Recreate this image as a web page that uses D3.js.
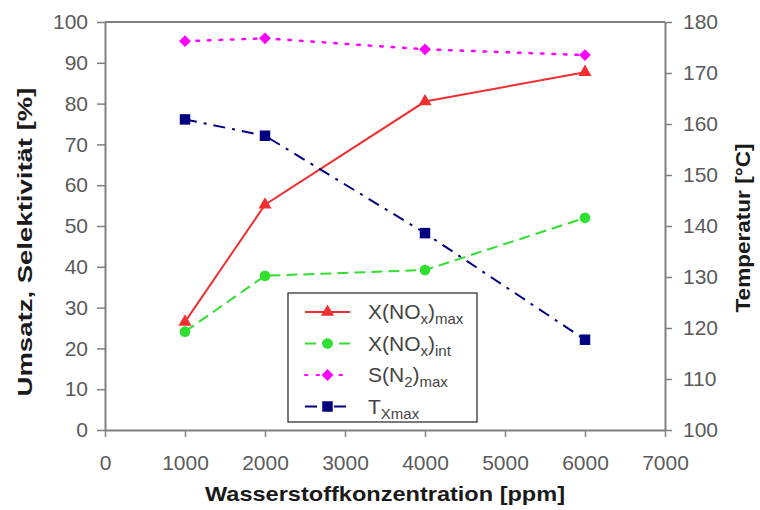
<!DOCTYPE html>
<html>
<head>
<meta charset="utf-8">
<script src="https://cdn.jsdelivr.net/npm/d3@7"></script>
<style>
  body { margin: 0; background: #fff; }
  text { font-family: "Liberation Sans", Arial, sans-serif; }
</style>
</head>
<body>
<div id="canvas"></div>
<script>
// Data

let concentrations = [1000, 2000, 4000, 6000];
let xNoxMax = [26.5, 55.2, 80.5, 87.7];
let xNoxInt = [24.1, 37.8, 39.2, 52.0];
let sN2Max = [95.3, 96.0, 93.3, 91.9];
let tXMax = [160.9, 157.7, 138.6, 117.7];

let xTicks = [0, 1000, 2000, 3000, 4000, 5000, 6000, 7000];
let leftTicks = [0, 10, 20, 30, 40, 50, 60, 70, 80, 90, 100];
let rightTicks = [100, 110, 120, 130, 140, 150, 160, 170, 180];

// Setting dimensions

let W = 760, H = 510;
let margin = {top: 22, right: 95, bottom: 80, left: 105};
let width = W - margin.left - margin.right;
let height = H - margin.top - margin.bottom;

let axisColor = "#808080";
let textColor = "#5a5a5a";

let svg = d3.select("#canvas")
    .append("svg")
    .attr("width", W)
    .attr("height", H);

let g = svg.append("g")
    .attr("transform", "translate(" + margin.left + ", " + margin.top + ")");

// Scales

let xScale = d3.scaleLinear().domain([0, 7000]).range([0, width]);
let yScale = d3.scaleLinear().domain([0, 100]).range([height, 0]);
let y2Scale = d3.scaleLinear().domain([100, 180]).range([height, 0]);

// Axes

function styleAxis(sel) {
    sel.select(".domain").attr("stroke", axisColor).attr("stroke-width", 2);
    sel.selectAll(".tick line").attr("stroke", axisColor).attr("stroke-width", 1.5);
    sel.selectAll(".tick text")
        .attr("fill", textColor)
        .style("font-size", "21px");
}

// top frame line
g.append("line")
    .attr("x1", xScale(0)).attr("x2", xScale(7000))
    .attr("y1", yScale(100)).attr("y2", yScale(100))
    .attr("stroke", axisColor).attr("stroke-width", 2);

g.append("g")
    .attr("transform", "translate(0, " + height + ")")
    .call(d3.axisBottom(xScale).tickValues(xTicks).tickFormat(d3.format("d"))
        .tickSize(7).tickSizeOuter(0).tickPadding(18))
    .call(styleAxis);

g.append("g")
    .call(d3.axisLeft(yScale).tickValues(leftTicks).tickSize(8).tickSizeOuter(0).tickPadding(9))
    .call(styleAxis);

g.append("g")
    .attr("transform", "translate(" + width + ", 0)")
    .call(d3.axisRight(y2Scale).tickValues(rightTicks).tickSize(7).tickSizeOuter(0).tickPadding(11))
    .call(styleAxis);

// Series

let series = [
    {values: xNoxMax, scale: yScale, color: "#f03030", dash: null, symbol: d3.symbolTriangle, size: 75, rot: 0},
    {values: xNoxInt, scale: yScale, color: "#30e030", dash: "11,6", symbol: d3.symbolCircle, size: 90, rot: 0},
    {values: sN2Max, scale: yScale, color: "#ff00ff", dash: "2.5,9", symbol: d3.symbolSquare, size: 70, rot: 45},
    {values: tXMax, scale: y2Scale, color: "#000080", dash: "12,7,3,7", symbol: d3.symbolSquare, size: 110, rot: 0}
];

series.forEach((s) => {
    let pts = concentrations.map((c, i) => [xScale(c), s.scale(s.values[i])]);
    g.append("path")
        .datum(pts)
        .attr("fill", "none")
        .attr("stroke", s.color)
        .attr("stroke-width", s.rot ? 2.5 : 2)
        .attr("stroke-linecap", s.rot ? "round" : "butt")
        .attr("stroke-dasharray", s.dash)
        .attr("d", d3.line());
    g.selectAll(null)
        .data(pts)
        .enter()
        .append("path")
        .attr("transform", (d) => "translate(" + d[0] + "," + d[1] + ") rotate(" + s.rot + ")")
        .attr("d", d3.symbol().type(s.symbol).size(s.size))
        .attr("fill", s.color);
});

// Legend

let legend = svg.append("g").attr("transform", "translate(288, 293)");
legend.append("rect")
    .attr("width", 189).attr("height", 129)
    .attr("fill", "#fff")
    .attr("stroke", "#222").attr("stroke-width", 1.2);

let legendLabels = [
    ["X(NO", "x", ")", "max"],
    ["X(NO", "x", ")", "int"],
    ["S(N", "2", ")", "max"],
    ["T", "Xmax", "", ""]
];

series.forEach((s, i) => {
    let row = legend.append("g").attr("transform", "translate(0," + (19 + i * 31.5) + ")");
    row.append("line")
        .attr("x1", 17).attr("x2", 62)
        .attr("stroke", s.color).attr("stroke-width", 2)
        .attr("stroke-linecap", s.rot ? "round" : "butt")
        .attr("stroke-dasharray", s.dash);
    row.append("path")
        .attr("transform", "translate(39.5,0) rotate(" + s.rot + ")")
        .attr("d", d3.symbol().type(s.symbol).size(s.size))
        .attr("fill", s.color);
    let lbl = legendLabels[i];
    let t = row.append("text")
        .attr("x", 80).attr("y", 7)
        .attr("fill", "#444")
        .style("font-size", "21px");
    t.append("tspan").text(lbl[0]);
    t.append("tspan").attr("dy", 5).style("font-size", "15px").text(lbl[1]);
    if (lbl[2]) {
        t.append("tspan").attr("dy", -5).text(lbl[2]);
        t.append("tspan").attr("dy", 5).style("font-size", "15px").text(lbl[3]);
    }
});

// Titles and labels

svg.append("text")
    .attr("x", margin.left + width / 2)
    .attr("y", 501)
    .attr("text-anchor", "middle")
    .attr("textLength", 360)
    .attr("lengthAdjust", "spacingAndGlyphs")
    .attr("fill", "#1a1a1a")
    .style("font-size", "21px")
    .style("font-weight", "bold")
    .text("Wasserstoffkonzentration [ppm]");

svg.append("text")
    .attr("transform", "translate(32, 242) rotate(-90)")
    .attr("text-anchor", "middle")
    .attr("textLength", 309)
    .attr("lengthAdjust", "spacingAndGlyphs")
    .attr("fill", "#1a1a1a")
    .style("font-size", "20px")
    .style("font-weight", "bold")
    .text("Umsatz, Selektivität [%]");

svg.append("text")
    .attr("transform", "translate(750, 228) rotate(-90)")
    .attr("text-anchor", "middle")
    .attr("textLength", 169)
    .attr("lengthAdjust", "spacingAndGlyphs")
    .attr("fill", "#1a1a1a")
    .style("font-size", "20px")
    .style("font-weight", "bold")
    .text("Temperatur [°C]");
</script>
</body>
</html>
